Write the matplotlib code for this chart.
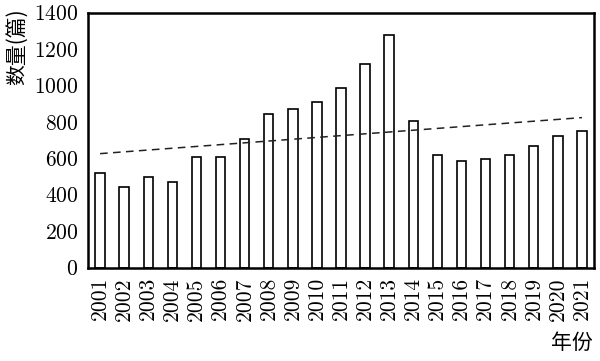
import numpy as np
import matplotlib
matplotlib.use('Agg')
import matplotlib.pyplot as plt

years = [str(y) for y in range(2001, 2022)]
counts = [518, 441, 497, 469, 606, 606, 707, 842, 870, 908, 987,
          1119, 1278, 804, 617, 586, 595, 619, 667, 720, 749]

plt.rcParams['font.family'] = ['cmr10', 'DejaVu Serif']
plt.rcParams['axes.formatter.use_mathtext'] = True

fig = plt.figure(figsize=(6.0, 3.61), dpi=100)
ax = fig.add_axes([88 / 600, 1 - 267.5 / 361, (594 - 88) / 600, (267.5 - 12.5) / 361])

x = np.arange(len(years))
ax.bar(x, counts, width=0.39, color='white', edgecolor='black', linewidth=1.2)

# linear trend line
k, b = np.polyfit(x, counts, 1)
ax.plot(x, k * x + b, color='#222222', linestyle=(0, (5, 3.5)), linewidth=1.1)

ax.set_xlim(-0.5, len(years) - 0.5)
ax.set_ylim(0, 1400)
ax.set_yticks(range(0, 1401, 200))
ax.set_xticks(x)
ax.set_xticklabels(years, rotation=90)
ax.tick_params(length=0, labelsize=15.5, pad=7)
ax.tick_params(axis='x', pad=7)

for s in ax.spines.values():
    s.set_linewidth(1.8)

cjk = ['Noto Sans CJK SC', 'DejaVu Sans']
fig.text(17 / 600, 1 - 47 / 361, '数量(篇)', rotation=90, ha='center', va='center',
         fontsize=15, family=cjk)
fig.text(593 / 600, 1 - 343 / 361, '年份', ha='right', va='center',
         fontsize=15, family=cjk)

fig.savefig('out.png', dpi=100)
